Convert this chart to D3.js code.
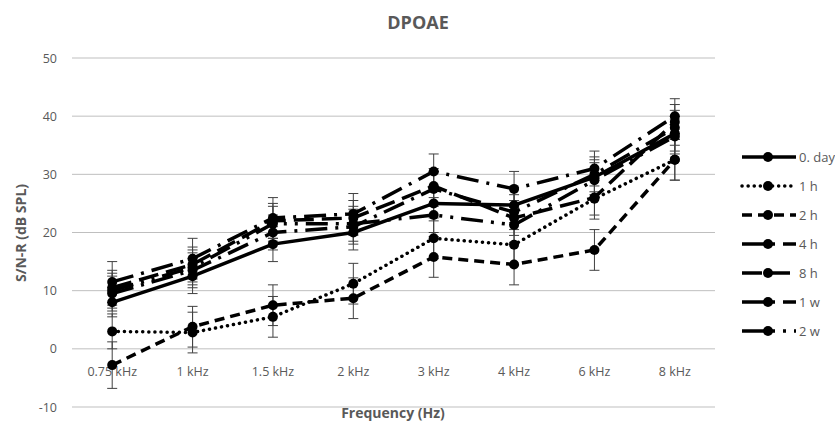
<!DOCTYPE html>
<html>
<head>
<meta charset="utf-8">
<script src="https://cdn.jsdelivr.net/npm/d3@7"></script>
<style>
  body { margin: 0; background: #fff; }
  svg { font-family: "Open Sans", sans-serif; }
</style>
</head>
<body>
<svg id="chart" width="835" height="433"></svg>
<script>
// categories on the x axis
const freqs = ["0.75 kHz", "1 kHz", "1.5 kHz", "2 kHz", "3 kHz", "4 kHz", "6 kHz", "8 kHz"];
const yTicks = [-10, 0, 10, 20, 30, 40, 50];
const seriesNames = ["0. day", "1 h", "2 h", "4 h", "8 h", "1 w", "2 w"];

// mean S/N-R per series (dB SPL)
const day0 = [8, 12.5, 18, 20, 25, 24.7, 29.5, 37];
const h1   = [3, 2.8, 5.5, 11.2, 19, 17.9, 25.8, 32.5];
const h2   = [-2.8, 3.8, 7.5, 8.7, 15.8, 14.5, 17, 32.5];
const h4   = [11.5, 15.5, 22.5, 23.2, 30.5, 27.5, 31, 40];
const h8   = [10.5, 14.5, 22, 22.5, 28, 22.5, 26, 39];
const w1   = [9.5, 13.5, 20, 21, 27.5, 23.5, 30, 38];
const w2   = [10, 14, 21.5, 21.5, 23, 21.3, 29, 36.5];

// error (±) per series
const errDay0 = [2.5, 3, 3, 3, 3, 3, 3, 3];
const errH1   = [3, 3.5, 3.5, 3.5, 3.5, 3.5, 3.5, 3.5];
const errH2   = [4, 3.5, 3.5, 3.5, 3.5, 3.5, 3.5, 3.5];
const errH4   = [3.5, 3.5, 3.5, 3.5, 3, 3, 3, 3];
const errH8   = [3, 3, 3, 3, 3, 3, 3, 3];
const errW1   = [3, 3, 3, 3, 3, 3, 3, 3];
const errW2   = [3, 3, 3, 3, 3, 3, 3, 3];

const series = [
  {name: seriesNames[0], values: day0, err: errDay0, dash: null, cap: "butt"},
  {name: seriesNames[1], values: h1,   err: errH1,   dash: "0.1 6", cap: "round"},
  {name: seriesNames[2], values: h2,   err: errH2,   dash: "10 6", cap: "butt"},
  {name: seriesNames[3], values: h4,   err: errH4,   dash: "22 8 3 8", cap: "butt"},
  {name: seriesNames[4], values: h8,   err: errH8,   dash: "20 8", cap: "butt"},
  {name: seriesNames[5], values: w1,   err: errW1,   dash: "22 8 3 8", cap: "butt"},
  {name: seriesNames[6], values: w2,   err: errW2,   dash: "22 8 3 8 3 8", cap: "butt"}
];

const svg = d3.select("#chart");
const gridColor = "#bfbfbf";
const textColor = "#595959";

const x = d3.scalePoint().domain(freqs).range([72, 715]).padding(0.5);
const y = d3.scaleLinear().domain([-10, 50]).range([407, 58]);

// gridlines
svg.append("g").selectAll("line").data(yTicks).join("line")
  .attr("x1", 72).attr("x2", 715)
  .attr("y1", d => y(d)).attr("y2", d => y(d))
  .attr("stroke", gridColor).attr("stroke-width", 1);

// y tick labels
svg.append("g").selectAll("text").data(yTicks).join("text")
  .attr("x", 57).attr("y", d => y(d) + 4.5)
  .attr("text-anchor", "end")
  .attr("font-size", 12.5).attr("fill", textColor)
  .text(d => d);

// x category labels (axis crosses at 0)
svg.append("g").selectAll("text").data(freqs).join("text")
  .attr("x", d => x(d)).attr("y", y(0) + 27)
  .attr("text-anchor", "middle")
  .attr("font-size", 12.5).attr("fill", textColor)
  .text(d => d);

// title & axis titles
svg.append("text").attr("x", 418).attr("y", 29).attr("text-anchor", "middle")
  .attr("font-size", 18).attr("font-weight", "bold").attr("fill", textColor).text("DPOAE");
svg.append("text").attr("x", 393).attr("y", 418).attr("text-anchor", "middle")
  .attr("font-size", 14).attr("font-weight", "bold").attr("fill", textColor).text("Frequency (Hz)");
svg.append("text").attr("transform", "translate(26,233) rotate(-90)").attr("text-anchor", "middle")
  .attr("font-size", 14).attr("font-weight", "bold").attr("fill", textColor).text("S/N-R (dB SPL)");

// error bars
const eb = svg.append("g").attr("stroke", "#404040").attr("stroke-width", 1);
series.forEach(s => {
  s.values.forEach((v, i) => {
    const cx = x(freqs[i]);
    const top = y(v + s.err[i]), bot = y(v - s.err[i]);
    eb.append("line").attr("x1", cx).attr("x2", cx).attr("y1", top).attr("y2", bot);
    eb.append("line").attr("x1", cx - 5).attr("x2", cx + 5).attr("y1", top).attr("y2", top);
    eb.append("line").attr("x1", cx - 5).attr("x2", cx + 5).attr("y1", bot).attr("y2", bot);
  });
});

// lines and markers
const line = d3.line().x((d, i) => x(freqs[i])).y(d => y(d));
series.slice().reverse().forEach(s => {
  svg.append("path").datum(s.values)
    .attr("d", line)
    .attr("fill", "none").attr("stroke", "#000").attr("stroke-width", 3.5)
    .attr("stroke-linecap", s.cap)
    .attr("stroke-dasharray", s.dash);
  svg.append("g").selectAll("circle").data(s.values).join("circle")
    .attr("cx", (d, i) => x(freqs[i])).attr("cy", d => y(d)).attr("r", 5)
    .attr("fill", "#000");
});

// legend
const lg = svg.append("g");
series.forEach((s, i) => {
  const ly = 157 + i * 29;
  lg.append("line").attr("x1", 742).attr("x2", 796).attr("y1", ly).attr("y2", ly)
    .attr("stroke", "#000").attr("stroke-width", 3.5)
    .attr("stroke-linecap", s.cap)
    .attr("stroke-dasharray", s.dash);
  lg.append("circle").attr("cx", 768).attr("cy", ly).attr("r", 5).attr("fill", "#000");
  lg.append("text").attr("x", 799).attr("y", ly + 4.5)
    .attr("font-size", 13).attr("fill", textColor).text(s.name);
});
</script>
</body>
</html>
